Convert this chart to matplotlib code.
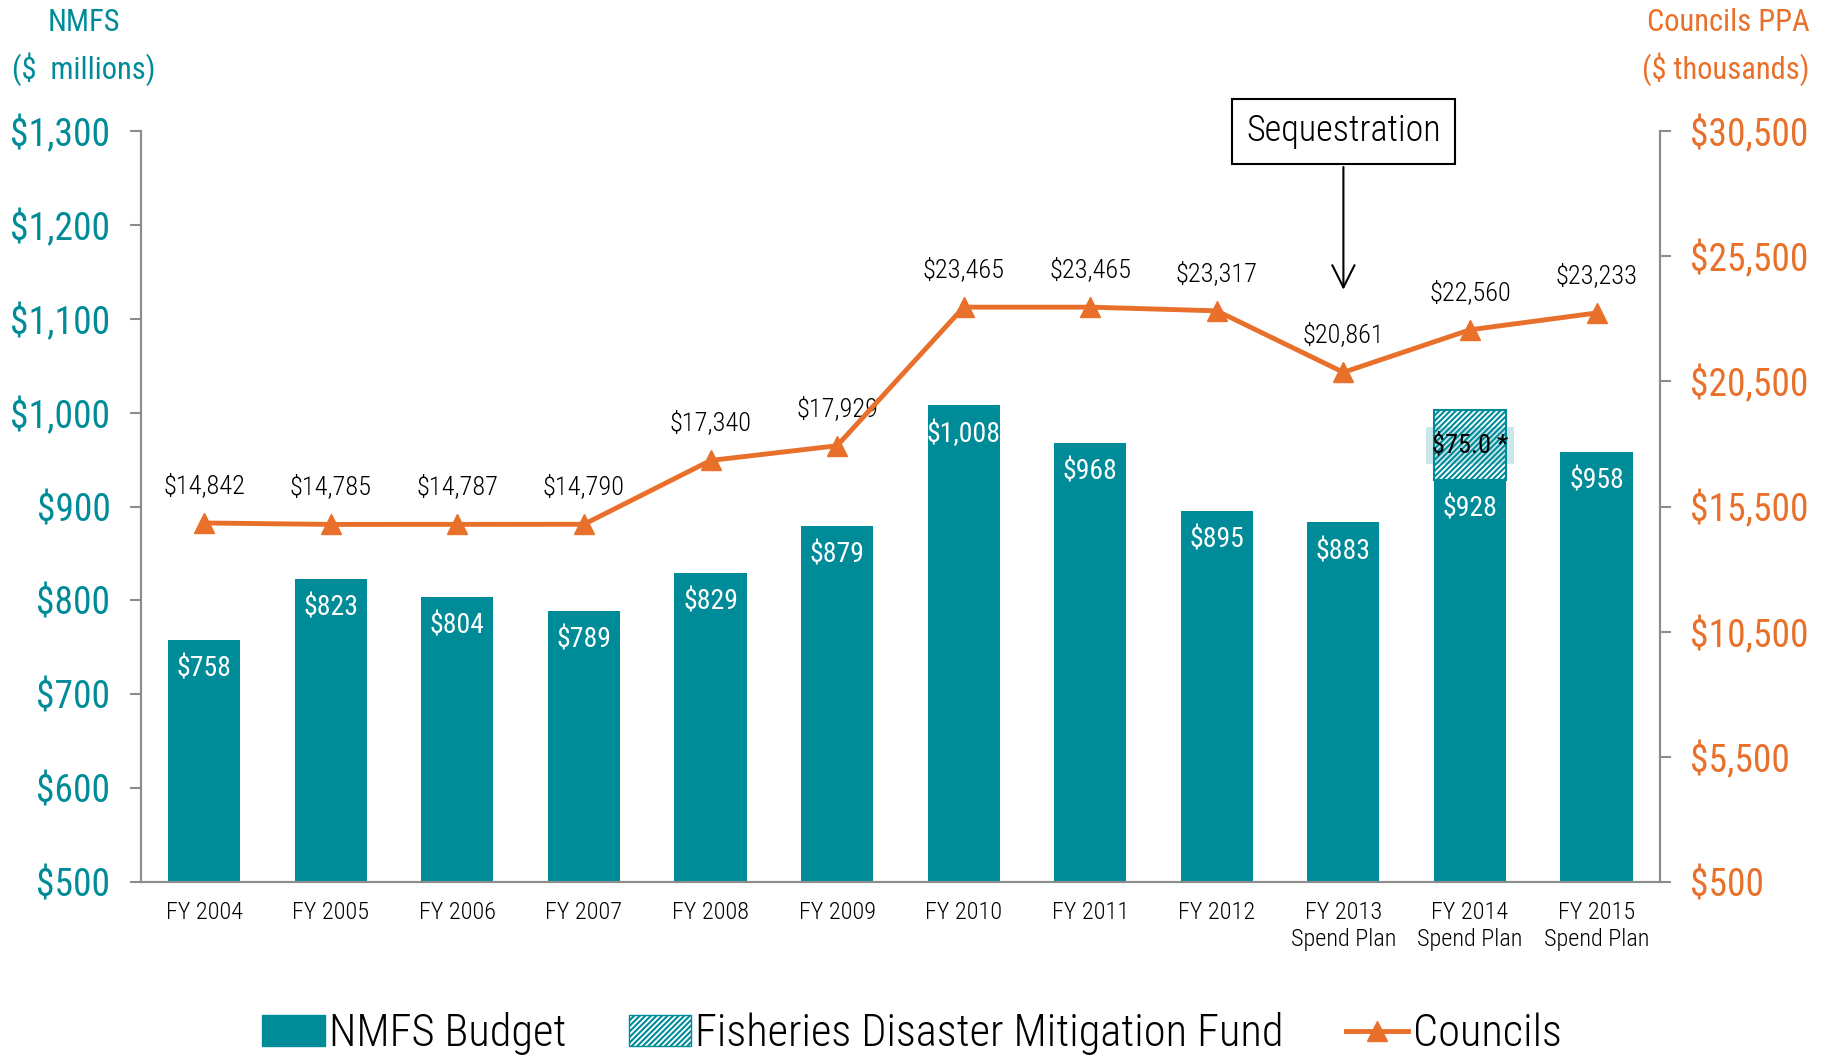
import matplotlib.pyplot as plt
from matplotlib.patches import Patch
from matplotlib.lines import Line2D
import numpy as np

plt.rcParams['font.family'] = ['Roboto Condensed', 'DejaVu Sans']
plt.rcParams['hatch.linewidth'] = 1.5

years = ["FY 2004", "FY 2005", "FY 2006", "FY 2007", "FY 2008", "FY 2009",
         "FY 2010", "FY 2011", "FY 2012", "FY 2013\nSpend Plan",
         "FY 2014\nSpend Plan", "FY 2015\nSpend Plan"]
nmfs = [758, 823, 804, 789, 829, 879, 1008, 968, 895, 883, 928, 958]
councils = [14842, 14785, 14787, 14790, 17340, 17929, 23465, 23465, 23317, 20861, 22560, 23233]
disaster_idx = 10
disaster_amt = 75.0

teal = '#008B99'
orange = '#E8702A'
gray = '#8c8c8c'

fig = plt.figure(figsize=(18.24, 10.57), dpi=100)
ax = fig.add_axes([0.0773, 0.1656, 0.8327, 0.7104])
ax2 = ax.twinx()

x = np.arange(len(years))
ax.bar(x, [v - 500 for v in nmfs], bottom=500, width=0.57, color=teal, zorder=2)
ax.bar(disaster_idx, disaster_amt, bottom=nmfs[disaster_idx], width=0.57,
       facecolor='white', edgecolor=teal, hatch='//////', linewidth=1.5, zorder=2)

# bar values, white, just under each bar top
for i, v in enumerate(nmfs):
    ax.annotate(f"${v:,}", (i, v), xytext=(0, -21), textcoords='offset points',
                ha='center', va='center', color='white', fontsize=20, zorder=3)

ax.text(disaster_idx, nmfs[disaster_idx] + 37, f"${disaster_amt:.1f} *", ha='center', va='center',
        fontsize=19, color='black', zorder=4,
        bbox=dict(boxstyle='square,pad=0.22', facecolor=teal, alpha=0.2, edgecolor='none'))

ax2.plot(x, councils, color=orange, linewidth=3.5, marker='^', markersize=15, zorder=5)
for i, v in enumerate(councils):
    ax2.annotate(f"${v:,}", (i, v), xytext=(0, 27), textcoords='offset points',
                 ha='center', va='center', fontsize=19, color='black', fontweight=300)

ax.set_xlim(-0.5, 11.5)
ax.set_ylim(500, 1300)
ax2.set_ylim(500, 30500)
ax.set_yticks(range(500, 1301, 100))
ax.set_yticklabels([f"${v:,}" for v in range(500, 1301, 100)])
ax2.set_yticks(range(500, 30501, 5000))
ax2.set_yticklabels([f"${v:,}" for v in range(500, 30501, 5000)])
ax.set_xticks(x)
ax.set_xticklabels(years, fontsize=17.5, fontweight=300)
ax.tick_params(axis='x', length=0, pad=14)
ax.tick_params(axis='y', colors=gray, labelcolor=teal, labelsize=27, length=8, width=1.5, pad=14)
ax2.tick_params(axis='y', colors=gray, labelcolor=orange, labelsize=27, length=8, width=1.5, pad=14)

for a in (ax, ax2):
    a.spines['top'].set_visible(False)
    for s in ('left', 'right', 'bottom'):
        a.spines[s].set_color(gray)
        a.spines[s].set_linewidth(1.5)

fig.text(0.046, 0.979, "NMFS", color=teal, fontsize=22, ha='center', va='center')
fig.text(0.046, 0.935, "($  millions)", color=teal, fontsize=22, ha='center', va='center')
fig.text(0.992, 0.979, "Councils PPA", color=orange, fontsize=22, ha='right', va='center')
fig.text(0.992, 0.935, "($ thousands)", color=orange, fontsize=22, ha='right', va='center')

ax2.annotate("Sequestration", xy=(9, 24050), xytext=(9, 30500), ha='center', va='center',
             fontsize=26, fontweight=300, annotation_clip=False,
             bbox=dict(boxstyle='square,pad=0.4', facecolor='white', edgecolor='black', linewidth=1.5),
             arrowprops=dict(arrowstyle='->', color='black', linewidth=1.5, mutation_scale=40))

handles = [Patch(facecolor=teal, edgecolor=teal),
           Patch(facecolor='white', edgecolor=teal, hatch='//////'),
           Line2D([0], [0], color=orange, linewidth=3.5, marker='^', markersize=15)]
fig.legend(handles, ["NMFS Budget", "Fisheries Disaster Mitigation Fund", "Councils"],
           loc='center', bbox_to_anchor=(0.5, 0.022), ncol=3, frameon=False,
           prop={'size': 32, 'weight': 300},
           handlelength=1.4, handletextpad=0.1, columnspacing=1.4)

fig.savefig('out.png', dpi=100)
